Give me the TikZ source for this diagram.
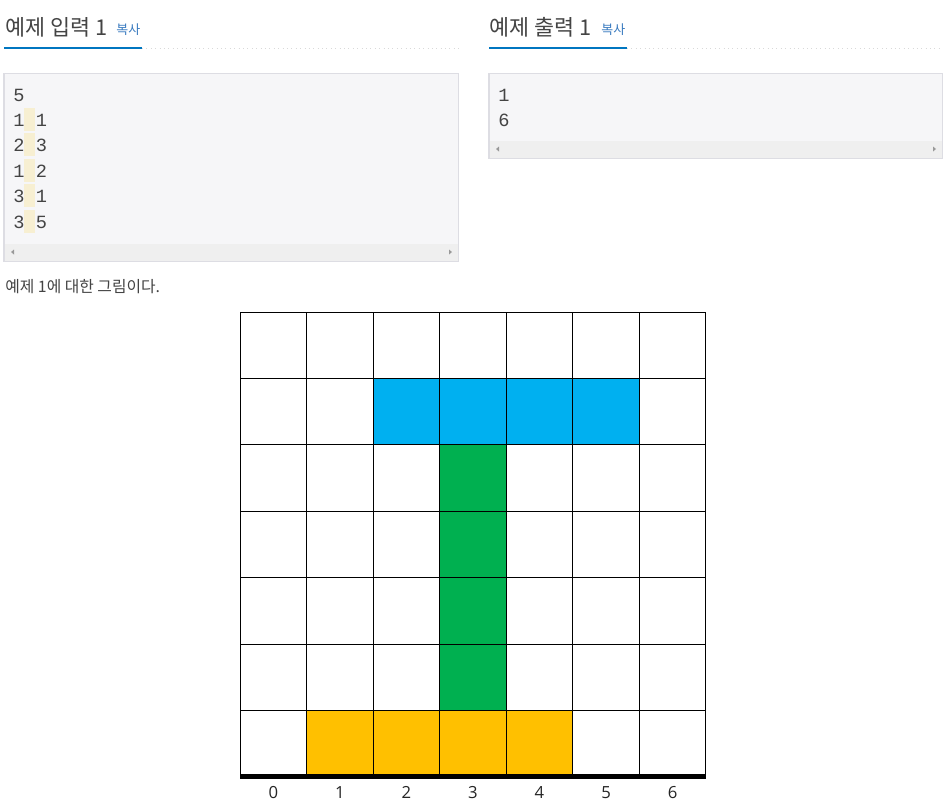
\documentclass[tikz,border=0pt]{standalone}
\usepackage{fontspec}
\setmainfont{Noto Sans CJK KR}
\newfontfamily\codefont{Liberation Mono}
\newfontfamily\labelfont{Open Sans}
\usetikzlibrary{positioning}

\definecolor{titletext}{HTML}{444444}
\definecolor{copyblue}{HTML}{3A7BC0}
\definecolor{tabline}{HTML}{0076C0}
\definecolor{boxbg}{HTML}{F6F6F8}
\definecolor{boxborder}{HTML}{DDDDE3}
\definecolor{scrollbg}{HTML}{EFEFEF}
\definecolor{spacemark}{HTML}{F7EFD2}
\definecolor{cellblue}{HTML}{00B0F0}
\definecolor{cellgreen}{HTML}{00B050}
\definecolor{cellyellow}{HTML}{FFC000}

\tikzset{
  title/.style={anchor=base west, inner sep=0, text=titletext, font=\fontsize{12.4pt}{14pt}\selectfont},
  copylink/.style={anchor=base west, inner sep=0, text=copyblue, font=\fontsize{7.4pt}{8pt}\selectfont},
  codetext/.style={anchor=base west, inner sep=0, text=titletext, font=\codefont\fontsize{10.6pt}{12pt}\selectfont},
  codebox/.style={fill=boxbg, draw=boxborder, line width=0.6pt},
  scrollbar/.style={fill=scrollbg},
  scrollarrow/.style={fill=black!40},
  cell/.style={draw=black, line width=0.5pt},
  collabel/.style={anchor=base, inner sep=0, text=black!85, font=\labelfont\fontsize{9.5pt}{11pt}\selectfont}
}

\begin{document}
\begin{tikzpicture}[x=0.02cm, y=-0.02cm]
\useasboundingbox (0,0) rectangle (948,805);
\fill[white] (0,0) rectangle (948,805);

% headings
\node[title] (intitle) at (5,35) {예제 입력 1};
\node[copylink] (incopy) at (116,34) {복사};
\node[title] (outtitle) at (489,35) {예제 출력 1};
\node[copylink] (outcopy) at (601,34) {복사};
\draw[black!15, line width=0.5pt, dotted] (142,48) -- (459,48);
\draw[black!15, line width=0.5pt, dotted] (627,48) -- (943,48);
\draw[tabline, line width=1.4pt] (4,48) -- (142,48);
\draw[tabline, line width=1.4pt] (489,48) -- (627,48);

% input box
\draw[codebox] (4,73.5) rectangle (458.5,261.5);
\fill[scrollbar] (4.5,243.5) rectangle (458,261);
\fill[scrollarrow] (11,252) -- (14,249.5) -- (14,254.5) -- cycle;
\fill[scrollarrow] (452,252) -- (449,249.5) -- (449,254.5) -- cycle;
\node[codetext] (in0) at (13,101) {5};
\foreach \Line/\Left/\Right in {1/1/1, 2/2/3, 3/1/2, 4/3/1, 5/3/5}
{
  \fill[spacemark] (24,82.5+25.4*\Line) rectangle (35,105.5+25.4*\Line);
  \node[codetext] (in\Line a) at (13,101+25.4*\Line) {\Left};
  \node[codetext] (in\Line b) at (35.5,101+25.4*\Line) {\Right};
}

% output box
\draw[codebox] (489,73.5) rectangle (942.5,158.5);
\fill[scrollbar] (489.5,140.5) rectangle (942,158);
\fill[scrollarrow] (496,149) -- (499,146.5) -- (499,151.5) -- cycle;
\fill[scrollarrow] (936,149) -- (933,146.5) -- (933,151.5) -- cycle;
\node[codetext] (out0) at (498,101) {1};
\node[codetext] (out1) at (498,126.4) {6};

% caption
\node[anchor=base west, inner sep=0, text=titletext, font=\fontsize{9pt}{10pt}\selectfont] (caption) at (5,292) {예제 1에 대한 그림이다.};

% grid
\begin{scope}[shift={(240,312)}, x=1.3314cm, y=-1.3286cm]
  \foreach \col in {0,...,6}
    \foreach \row in {0,...,6}
      \draw[cell, fill=white] (\col,\row) rectangle ++(1,1);
  \foreach \col in {2,...,5}
    \draw[cell, fill=cellblue] (\col,1) rectangle ++(1,1);
  \foreach \row in {2,...,5}
    \draw[cell, fill=cellgreen] (3,\row) rectangle ++(1,1);
  \foreach \col in {1,...,4}
    \draw[cell, fill=cellyellow] (\col,6) rectangle ++(1,1);
  \draw[black, line width=2.8pt] (0,7) -- (7,7);
  \foreach \col in {0,...,6}
    \node[collabel] (lab\col) at (\col+0.5,7.32) {\col};
\end{scope}
\end{tikzpicture}
\end{document}
